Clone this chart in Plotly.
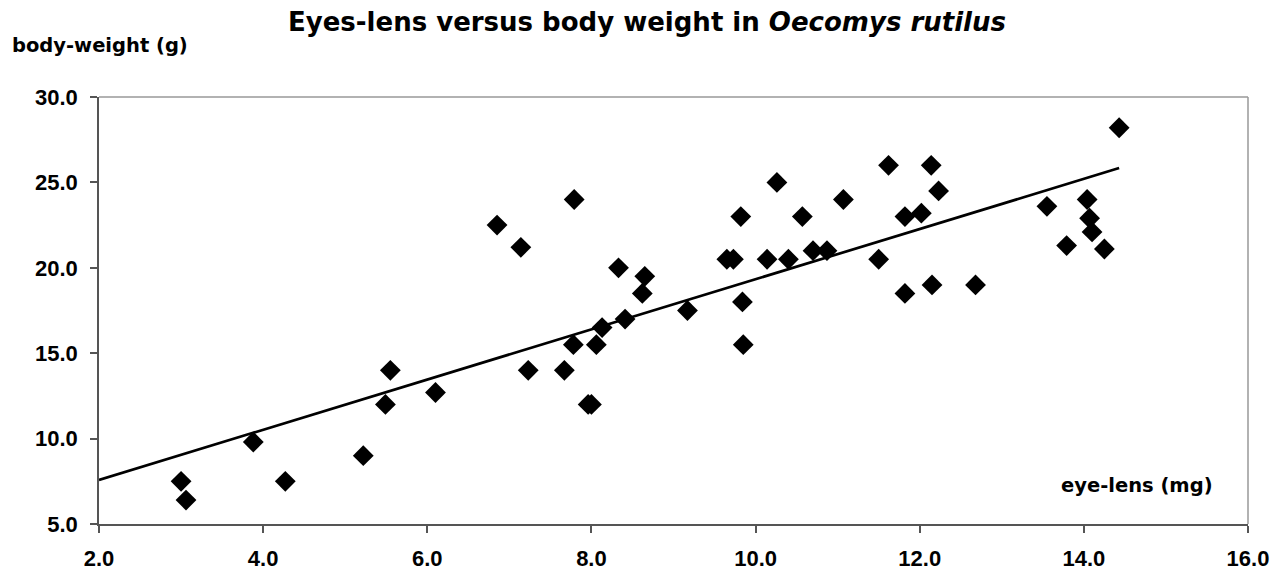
import plotly.graph_objects as go

# eye-lens weight (mg)
eye_lens = [3.00, 3.06, 3.88, 4.27, 5.22, 5.49, 5.55, 6.10, 6.85, 7.14,
            7.23, 7.67, 7.79, 7.78, 7.96, 8.00, 8.06, 8.13, 8.33, 8.41,
            8.62, 8.65, 9.17, 9.65, 9.73, 9.82, 9.84, 9.85, 10.14, 10.26,
            10.40, 10.57, 10.70, 10.87, 11.07, 11.50, 11.62, 11.82, 11.82, 12.02,
            12.14, 12.15, 12.23, 12.68, 13.55, 13.79, 14.04, 14.07, 14.10, 14.25,
            14.43]
# body weight (g)
body_weight = [7.5, 6.4, 9.8, 7.5, 9.0, 12.0, 14.0, 12.7, 22.5, 21.2,
               14.0, 14.0, 24.0, 15.5, 12.0, 12.0, 15.5, 16.5, 20.0, 17.0,
               18.5, 19.5, 17.5, 20.5, 20.5, 23.0, 18.0, 15.5, 20.5, 25.0,
               20.5, 23.0, 21.0, 21.0, 24.0, 20.5, 26.0, 23.0, 18.5, 23.2,
               26.0, 19.0, 24.5, 19.0, 23.6, 21.3, 24.0, 22.9, 22.1, 21.1,
               28.2]

# trendline (start / end)
trend_x = [2.0, 14.43]
trend_y = [7.58, 25.84]

x_ticks = [2, 4, 6, 8, 10, 12, 14, 16]
y_ticks = [5, 10, 15, 20, 25, 30]

FONT = "DejaVu Sans, Liberation Sans, Arial, sans-serif"
TICK_FONT = "Liberation Sans, Arial, sans-serif"

W, H = 1277, 573
PL, PR, PT, PB = 99, 1248, 97, 524  # plot area in screen pixels

fig = go.Figure()
fig.add_trace(go.Scatter(x=trend_x, y=trend_y, mode="lines",
                         line=dict(color="black", width=2.7),
                         showlegend=False, hoverinfo="skip"))
fig.add_trace(go.Scatter(x=eye_lens, y=body_weight, mode="markers",
                         marker=dict(symbol="diamond", size=16, color="black",
                                     line=dict(width=0)),
                         showlegend=False))

pw, ph = PR - PL, PB - PT


def px(sx):
    return (sx - PL) / pw


def py(sy):
    return (PB - sy) / ph


axis_common = dict(
    showgrid=False, zeroline=False, automargin=False,
    showline=True, linecolor="#555", linewidth=1.5,
    ticks="outside", ticklen=7, tickcolor="#555", tickwidth=1.5,
    tickfont=dict(size=22, family=TICK_FONT, color="black"),
)

fig.update_layout(
    width=W, height=H,
    margin=dict(l=PL, r=W - PR, t=PT, b=H - PB, autoexpand=False),
    paper_bgcolor="white", plot_bgcolor="white",
    font=dict(family=FONT, color="black"),
    title=dict(text="<b>Eyes-lens versus body weight in <i>Oecomys rutilus</i></b>",
               x=647 / W, xanchor="center",
               y=1 - 22 / H, yanchor="middle",
               font=dict(size=26, family=FONT, color="black")),
    xaxis=dict(range=[2, 16], tickvals=x_ticks,
               ticktext=[f"<b>{v:.1f}</b>" for v in x_ticks],
               ticklabeloverflow="allow", ticklabelstandoff=7,
               **axis_common),
    yaxis=dict(range=[5, 30], tickvals=y_ticks,
               ticktext=[f"<b>{v:.1f}</b>" for v in y_ticks],
               ticklabelstandoff=8,
               **axis_common),
    shapes=[
        dict(type="line", xref="paper", yref="paper", x0=0, x1=1, y0=1, y1=1,
             line=dict(color="#999", width=1.5)),
        dict(type="line", xref="paper", yref="paper", x0=1, x1=1, y0=0, y1=1,
             line=dict(color="#999", width=1.5)),
    ],
    annotations=[
        dict(text="<b>body-weight (g)</b>", xref="paper", yref="paper",
             x=px(10), y=py(45), xanchor="left", yanchor="middle",
             showarrow=False, font=dict(size=19.5, family=FONT, color="black")),
        dict(text="<b>eye-lens (mg)</b>", xref="paper", yref="paper",
             x=px(1215), y=py(485), xanchor="right", yanchor="middle",
             showarrow=False, font=dict(size=19.5, family=FONT, color="black")),
    ],
)

fig.write_html(
    "out.html",
    config={"displayModeBar": False},
    post_script="document.body.style.margin='0';document.body.style.overflow='hidden';",
)
